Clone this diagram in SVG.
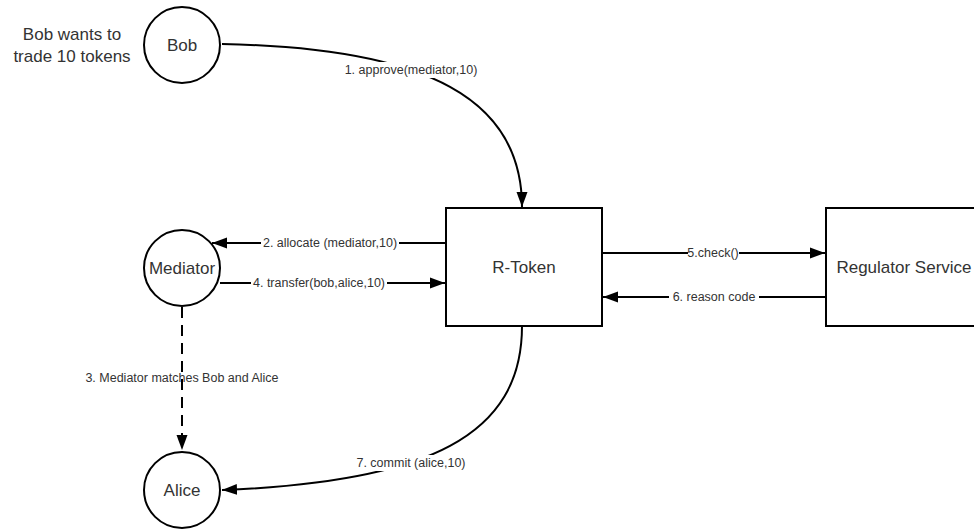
<svg xmlns="http://www.w3.org/2000/svg" width="974" height="531" viewBox="0 0 974 531">
<style>
.node{fill:#fff;stroke:#000;stroke-width:2}
.t{font-family:"Liberation Sans",Arial,sans-serif;font-size:17px;fill:#333;text-anchor:middle;dominant-baseline:central}
.l{font-family:"Liberation Sans",Arial,sans-serif;font-size:12.5px;fill:#333;text-anchor:middle;dominant-baseline:central}
.c{fill:none;stroke:#000;stroke-width:2}
.bg{fill:#fff}
</style>
<defs>
<marker id="ah" markerUnits="userSpaceOnUse" markerWidth="16" markerHeight="12" viewBox="0 0 16 12" refX="15" refY="6" orient="auto">
<path d="M0,0.5 L15,6 L0,11.5 z" fill="#000"/>
</marker>
</defs>
<rect width="974" height="531" fill="#fff"/>
<g id="connectors">
<path class="c" d="M222,44 C430,48 522,100 522,207" marker-end="url(#ah)"/>
<path class="c" d="M446,243 L212,243" marker-end="url(#ah)"/>
<path class="c" d="M220,283 L445,283" marker-end="url(#ah)"/>
<path class="c" d="M602,253 L825,253" marker-end="url(#ah)"/>
<path class="c" d="M826,297 L603,297" marker-end="url(#ah)"/>
<path class="c" d="M182,307 L182,450" stroke-dasharray="11 7" marker-end="url(#ah)"/>
<path class="c" d="M522,326 C522,435 430,482 222,490" marker-end="url(#ah)"/>
<rect class="bg" x="343" y="62" width="136" height="16"/>
<text class="l" x="411" y="70">1. approve(mediator,10)</text>
<rect class="bg" x="261" y="235" width="138" height="16"/>
<text class="l" x="330" y="243">2. allocate (mediator,10)</text>
<rect class="bg" x="251" y="275" width="136" height="16"/>
<text class="l" x="319" y="283">4. transfer(bob,alice,10)</text>
<rect class="bg" x="688" y="245" width="51" height="16"/>
<text class="l" x="713" y="253">5.check()</text>
<rect class="bg" x="669" y="289" width="90" height="16"/>
<text class="l" x="714" y="297">6. reason code</text>
<text class="l" x="182" y="378">3. Mediator matches Bob and Alice</text>
<rect class="bg" x="356" y="455" width="110" height="16"/>
<text class="l" x="411" y="463">7. commit (alice,10)</text>
</g>
<g id="note">
<text class="t" x="72" y="34">Bob wants to</text>
<text class="t" x="72" y="56">trade 10 tokens</text>
</g>
<g id="bob">
<circle class="node" cx="182" cy="45" r="38"/>
<text class="t" x="182" y="45">Bob</text>
</g>
<g id="mediator">
<circle class="node" cx="182" cy="268" r="38"/>
<text class="t" x="182" y="268">Mediator</text>
</g>
<g id="alice">
<circle class="node" cx="182" cy="490" r="38"/>
<text class="t" x="182" y="490">Alice</text>
</g>
<g id="rtoken">
<rect class="node" x="446" y="208" width="156" height="118"/>
<text class="t" x="524" y="267">R-Token</text>
</g>
<g id="regulator">
<rect class="node" x="826" y="208" width="156" height="118"/>
<text class="t" x="904" y="267">Regulator Service</text>
</g>
</svg>
